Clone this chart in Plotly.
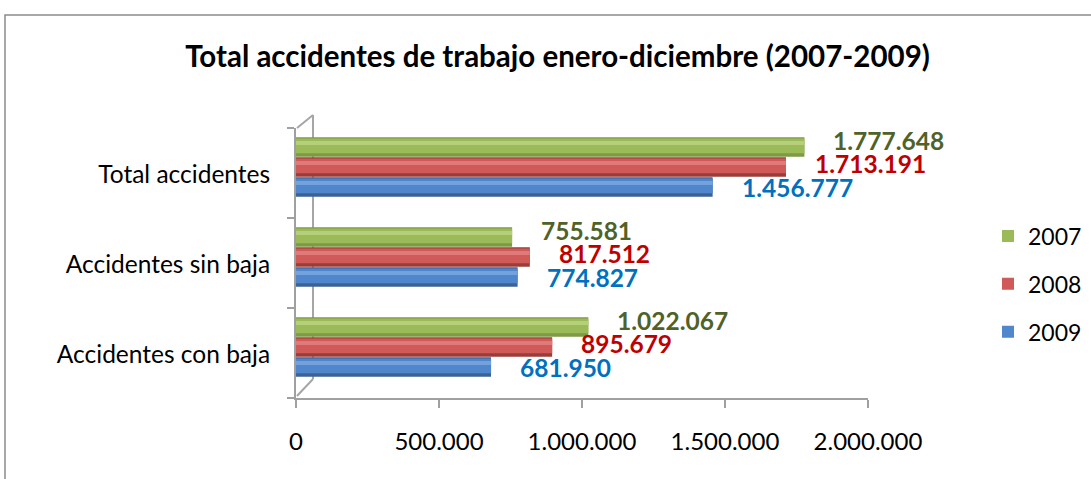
import plotly.graph_objects as go

categories = ["Total accidentes", "Accidentes sin baja", "Accidentes con baja"]
years = ["2007", "2008", "2009"]
values_2007 = [1777648, 755581, 1022067]
values_2008 = [1713191, 817512, 895679]
values_2009 = [1456777, 774827, 681950]
x_ticks = [0, 500000, 1000000, 1500000, 2000000]

series = {"2007": values_2007, "2008": values_2008, "2009": values_2009}
colors = {
    "2007": dict(dark="#7E9A45", body="#9BBB59", light="#B5CF7A", label="#4F6228"),
    "2008": dict(dark="#9A3C3A", body="#D05A57", light="#E0797A", label="#C00000"),
    "2009": dict(dark="#3B6296", body="#4F86CC", light="#74A2DD", label="#0070C0"),
}
shift = {"2007": 0.289, "2008": 0.067, "2009": -0.155}
label_yshift = {"2007": 6, "2008": 3, "2009": -1}

n = len(categories)
base_pos = [n - 1 - i for i in range(n)]  # top category at top

FONT = "Lato"
fig = go.Figure()
annotations = []
for yr in years:
    vals = series[yr]
    c = colors[yr]
    ypos = [p + shift[yr] for p in base_pos]
    fig.add_trace(go.Bar(x=vals, y=ypos, orientation="h", width=0.215,
                         marker=dict(color=c["dark"], line=dict(width=0)),
                         showlegend=False, hoverinfo="skip"))
    fig.add_trace(go.Bar(x=vals, y=[p + 0.012 for p in ypos], orientation="h", width=0.165,
                         marker=dict(color=c["body"], line=dict(width=0)),
                         name=yr, legendgroup=yr, showlegend=True))
    fig.add_trace(go.Bar(x=vals, y=[p + 0.045 for p in ypos], orientation="h", width=0.045,
                         marker=dict(color=c["light"], line=dict(width=0)),
                         showlegend=False, hoverinfo="skip"))
    for v, yp in zip(vals, ypos):
        annotations.append(dict(
            x=v, y=yp, xref="x", yref="y", text="<b>" + f"{v:,}".replace(",", ".") + "</b>",
            showarrow=False, xanchor="left", yanchor="middle", xshift=27, yshift=label_yshift[yr],
            font=dict(family=FONT, size=24.5, color=c["label"])))

W, H = 1091, 479
L, R, T, B = 296, 868, 128, 398
pw, ph = R - L, B - T

def px(xp):
    return (xp - L) / pw

def py(yp):
    return (B - yp) / ph

shapes = [
    dict(type="rect", xref="paper", yref="paper", x0=px(5), x1=px(1100), y0=py(15), y1=py(490),
         line=dict(color="#8C8C8C", width=1.5), layer="below"),
    dict(type="line", xref="paper", yref="paper", x0=px(313), x1=px(313), y0=py(115), y1=py(379),
         line=dict(color="#A6A6A6", width=2), layer="below"),
    dict(type="line", xref="paper", yref="paper", x0=px(297), x1=px(313), y0=py(128), y1=py(115),
         line=dict(color="#A6A6A6", width=2), layer="below"),
    dict(type="line", xref="paper", yref="paper", x0=px(297), x1=px(313), y0=py(396), y1=py(379),
         line=dict(color="#A6A6A6", width=2), layer="below"),
]

fig.update_layout(
    width=W, height=H,
    margin=dict(l=L, r=W - R, t=T, b=H - B, pad=0),
    paper_bgcolor="white", plot_bgcolor="white",
    barmode="overlay",
    separators=",.",
    title=dict(text="<b>Total accidentes de trabajo enero-diciembre (2007-2009)</b>",
               x=557.5 / W, xanchor="center", xref="container",
               y=1 - 57 / H, yanchor="middle", yref="container",
               font=dict(family=FONT, size=29.5, color="black")),
    font=dict(family=FONT, color="black"),
    xaxis=dict(range=[0, 2000000], tickvals=x_ticks, tickformat=",d", automargin=False,
               showgrid=False, zeroline=False, showline=True, linecolor="#A0A0A0", linewidth=2,
               ticks="outside", ticklen=8, tickwidth=2, tickcolor="#A0A0A0",
               ticklabelstandoff=13, tickfont=dict(family=FONT, size=24, color="black")),
    yaxis=dict(range=[-0.5, n - 0.5], tickvals=base_pos, ticktext=categories, automargin=False,
               showgrid=False, zeroline=False, showline=True, linecolor="#A0A0A0", linewidth=2,
               ticks="", ticklabelstandoff=19, ticklabelshift=1,
               tickfont=dict(family=FONT, size=24.5, color="black"),
               minor=dict(tickvals=[-0.5, 0.5, 1.5, 2.5], ticks="outside", ticklen=7,
                          tickwidth=2, tickcolor="#A0A0A0", showgrid=False)),
    legend=dict(x=988 / W, xref="container", xanchor="left",
                y=1 - 284 / H, yref="container", yanchor="middle",
                font=dict(family=FONT, size=23, color="black"),
                tracegroupgap=15, bgcolor="rgba(0,0,0,0)"),
    annotations=annotations,
    shapes=shapes,
    showlegend=True,
)

fig.write_html("out.html", config={"displayModeBar": False},
               post_script="document.body.style.margin='0';")
